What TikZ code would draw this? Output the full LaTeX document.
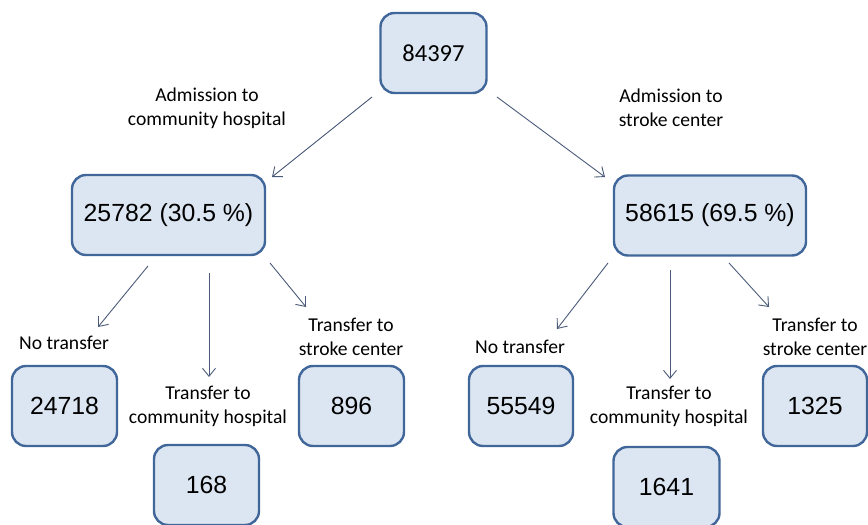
\documentclass[tikz,border=0pt]{standalone}
\usepackage{fontspec}
\setmainfont{Carlito}
\newfontfamily\arialfont{Liberation Sans}
\usetikzlibrary{arrows.meta}
\definecolor{boxfill}{HTML}{DCE6F2}
\definecolor{boxdraw}{HTML}{41679A}
\definecolor{arrowc}{HTML}{4A5A78}
\begin{document}
\begin{tikzpicture}[x=1pt,y=-1pt,
  numbox/.style={draw=boxdraw,fill=boxfill,line width=2.4pt,rounded corners=14pt,
    minimum height=80pt,inner sep=0pt,font=\arialfont\fontsize{24.8}{28}\selectfont},
  lbl/.style={align=center,font=\fontsize{19.6}{24}\selectfont,inner sep=0pt},
  arr/.style={draw=arrowc,line width=0.9pt,-{Straight Barb[length=8pt,width=13pt]}}]
\useasboundingbox (0,0) rectangle (868,525);
\clip (0,0) rectangle (868,525);
% boxes
\node[numbox,minimum width=106pt,font=\fontsize{24.5}{28}\selectfont] (root) at (433.5,53) {84397};
\node[numbox,minimum width=193pt] (cm) at (168.5,215) {25782 (30.5~\%)};
\node[numbox,minimum width=192pt] (sc) at (710,215.5) {58615 (69.5~\%)};
\node[numbox,minimum width=105pt] (cmno) at (64.5,406) {24718};
\node[numbox,minimum width=105pt] (cmch) at (206.5,485) {168};
\node[numbox,minimum width=105pt] (cmsc) at (351.5,406) {896};
\node[numbox,minimum width=104pt] (scno) at (521,406) {55549};
\node[numbox,minimum width=106pt] (scch) at (666.5,487) {1641};
\node[numbox,minimum width=104pt] (scsc) at (815,406) {1325};
% labels
\node[lbl] (lcm) at (207,108) {Admission to\\community hospital};
\node[lbl] (lsc) at (671,108) {Admission to\\stroke center};
\node[lbl] (lcmno) at (64,343) {No transfer};
\node[lbl] (lcmch) at (208,406) {Transfer to\\community hospital};
\node[lbl] (lcmsc) at (351,337) {Transfer to\\stroke center};
\node[lbl] (lscno) at (520,347) {No transfer};
\node[lbl] (lscch) at (669,406) {Transfer to\\community hospital};
\node[lbl] (lscsc) at (815,337) {Transfer to\\stroke center};
% arrow end points
\coordinate (a1s) at (372,97);  \coordinate (a1e) at (272,177);
\coordinate (a2s) at (497,97);  \coordinate (a2e) at (605,177);
\coordinate (b1s) at (148,266); \coordinate (b1e) at (98,327);
\coordinate (b2s) at (209,273); \coordinate (b2e) at (209,377);
\coordinate (b3s) at (270,263); \coordinate (b3e) at (306,307);
\coordinate (c1s) at (608,263); \coordinate (c1e) at (557,329);
\coordinate (c2s) at (670,270); \coordinate (c2e) at (670,379);
\coordinate (c3s) at (729,263); \coordinate (c3e) at (769,307);
\draw[arr] (a1s) -- (a1e);
\draw[arr] (a2s) -- (a2e);
\draw[arr] (b1s) -- (b1e);
\draw[arr] (b2s) -- (b2e);
\draw[arr] (b3s) -- (b3e);
\draw[arr] (c1s) -- (c1e);
\draw[arr] (c2s) -- (c2e);
\draw[arr] (c3s) -- (c3e);
\end{tikzpicture}
\end{document}
